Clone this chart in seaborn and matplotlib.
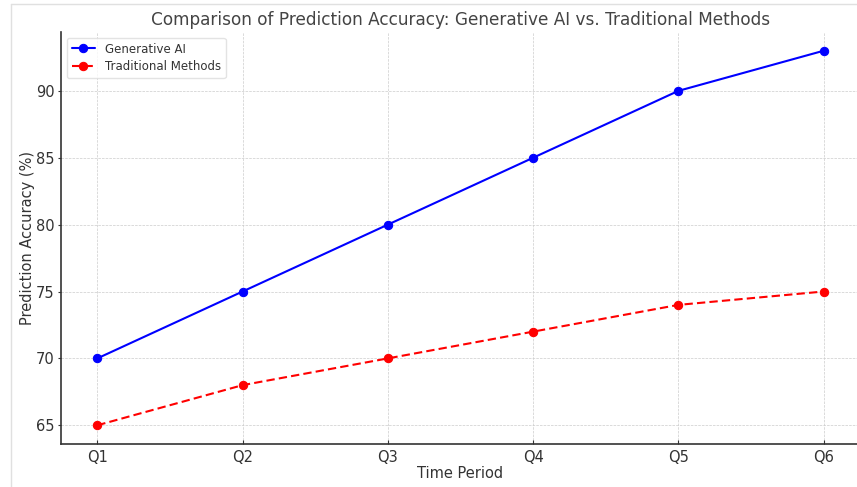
import matplotlib
matplotlib.use("Agg")
import matplotlib.pyplot as plt
from matplotlib.lines import Line2D
import seaborn as sns
import pandas as pd

# Quarterly prediction accuracy (%)
periods = ["Q1", "Q2", "Q3", "Q4", "Q5", "Q6"]
generative_ai = [70, 75, 80, 85, 90, 93]
traditional = [65, 68, 70, 72, 74, 75]
series_names = ["Generative AI", "Traditional Methods"]

df = pd.DataFrame({
    "Time Period": periods * 2,
    "Prediction Accuracy (%)": generative_ai + traditional,
    "Method": [series_names[0]] * len(periods) + [series_names[1]] * len(periods),
})

sns.set_style("whitegrid", {
    "axes.edgecolor": "#333333",
    "xtick.bottom": True,
    "ytick.left": True,
    "xtick.direction": "in",
    "ytick.direction": "out",
    "text.color": "#333333",
    "axes.labelcolor": "#333333",
    "xtick.color": "#333333",
    "ytick.color": "#333333",
})
plt.rcParams["font.family"] = ["DejaVu Sans"]
plt.rcParams["xtick.major.size"] = 3
plt.rcParams["ytick.major.size"] = 2.5

fig = plt.figure(figsize=(8.57, 4.87), dpi=100)
ax = fig.add_axes([61 / 857, 43 / 487, 799 / 857, 412 / 487])

sns.lineplot(
    data=df, x="Time Period", y="Prediction Accuracy (%)", hue="Method",
    style="Method", markers={series_names[0]: "o", series_names[1]: "o"},
    dashes={series_names[0]: "", series_names[1]: (4, 2)},
    palette={series_names[0]: "blue", series_names[1]: "red"},
    markersize=6, linewidth=1.5, ax=ax, sort=False,
)
for ln in ax.lines:
    ln.set_markeredgecolor(ln.get_color())

ax.set_xlim(-0.25, 5.25)
ax.set_ylim(63.6, 94.4)
ax.set_yticks([65, 70, 75, 80, 85, 90])
ax.tick_params(axis="x", labelsize=10.5, pad=4)
ax.tick_params(axis="y", labelsize=10.5, pad=2)
ax.set_title("Comparison of Prediction Accuracy: Generative AI vs. Traditional Methods",
             fontsize=12.2, color="#444444", pad=5)
ax.set_xlabel("Time Period", fontsize=10.5, labelpad=1)
ax.set_ylabel("Prediction Accuracy (%)", fontsize=10.5, labelpad=1)
for side in ("top", "right"):
    ax.spines[side].set_visible(False)
for side in ("left", "bottom"):
    ax.spines[side].set_linewidth(1.2)
ax.grid(True, linestyle="--", color="#cccccc", linewidth=0.5)

leg = ax.legend(loc="upper left", fontsize=8.5, frameon=True, borderaxespad=0.5,
                labelspacing=0.4, handlelength=2.0)
leg.get_frame().set_edgecolor("#dddddd")
for h in leg.get_lines():
    h.set_markeredgecolor(h.get_color())

# thin outer frame
fig.add_artist(Line2D([11 / 857, 11 / 857], [0, 1 - 4 / 487], color="#e0e0e0", lw=1))
fig.add_artist(Line2D([11 / 857, 1], [1 - 4 / 487, 1 - 4 / 487], color="#e0e0e0", lw=1))

fig.savefig("out.png", dpi=100)
